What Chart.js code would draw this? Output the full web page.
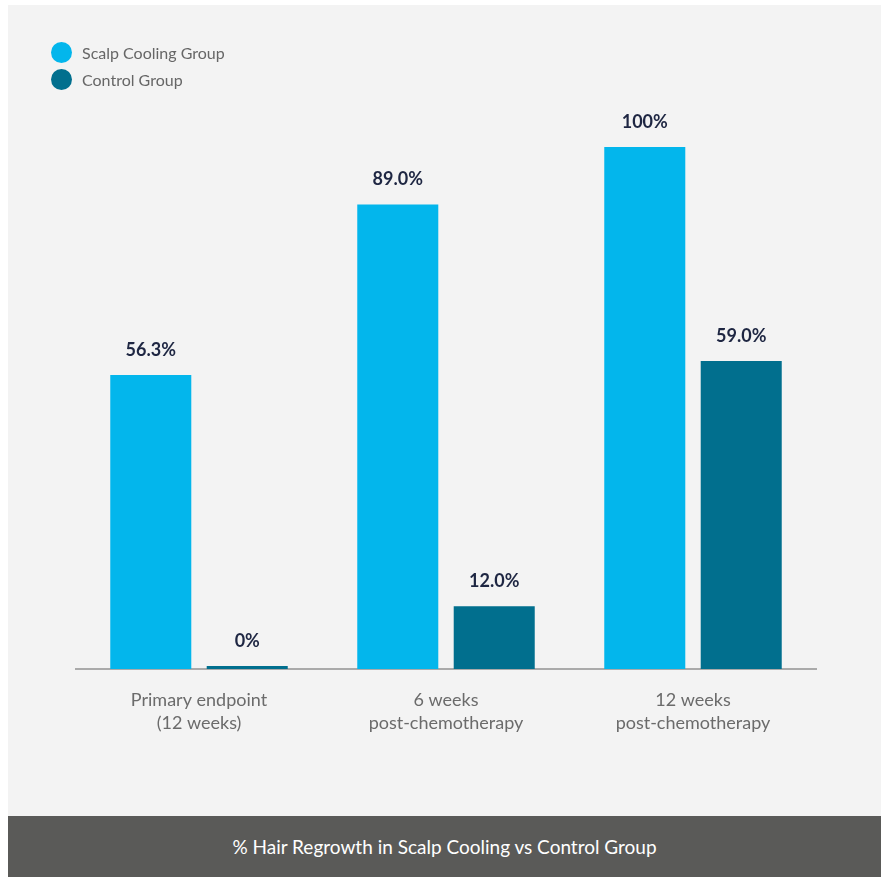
<!DOCTYPE html>
<html>
<head>
<meta charset="utf-8">
<script src="https://cdn.jsdelivr.net/npm/chart.js@4"></script>
<style>
    html, body { margin: 0; padding: 0; background: #ffffff; }
    body { width: 881px; height: 877px; position: relative; overflow: hidden; font-family: Lato, "Open Sans", sans-serif; }
    .panel { position: absolute; left: 8px; top: 5px; width: 873px; height: 811px; background: #f3f3f3; }
    .panel canvas { position: absolute; left: 0; top: 0; }
    .legend { position: absolute; left: 43px; top: 34px; }
    .legend .item { display: flex; align-items: center; height: 27px; font-size: 16px; color: #666666; }
    .legend .dot { width: 21px; height: 21px; border-radius: 50%; margin-right: 10px; }
    .footer { position: absolute; left: 8px; top: 816px; width: 873px; height: 61px; background: #5a5a58;
              color: #ffffff; font-size: 19px; text-align: center; line-height: 61px; }
</style>
</head>
<body>
<div class="panel">
    <canvas id="chart" width="873" height="811"></canvas>
    <div class="legend" id="legend"></div>
</div>
<div class="footer">% Hair Regrowth in Scalp Cooling vs Control Group</div>

<script>
// 数据
const categories = [
    ['Primary endpoint', '(12 weeks)'],
    ['6 weeks', 'post-chemotherapy'],
    ['12 weeks', 'post-chemotherapy']
];
const seriesNames = ['Scalp Cooling Group', 'Control Group'];
const scalpCooling = [56.3, 89.0, 100];
const control = [0, 12.0, 59.0];
const valueLabels = [
    ['56.3%', '89.0%', '100%'],
    ['0%', '12.0%', '59.0%']
];
const colors = ['#03b6ec', '#016f8e'];

// 图例
const legendEl = document.getElementById('legend');
seriesNames.forEach((name, i) => {
    const item = document.createElement('div');
    item.className = 'item';
    item.innerHTML = '<span class="dot" style="background:' + colors[i] + '"></span>' + name;
    legendEl.appendChild(item);
});

// 柱顶数值
const valueLabelPlugin = {
    id: 'valueLabels',
    afterDatasetsDraw(chart) {
        const ctx = chart.ctx;
        ctx.save();
        ctx.font = 'bold 18px Lato, "Open Sans", sans-serif';
        ctx.fillStyle = '#1e2642';
        ctx.textAlign = 'center';
        ctx.textBaseline = 'middle';
        chart.data.datasets.forEach((ds, di) => {
            chart.getDatasetMeta(di).data.forEach((bar, i) => {
                const top = Math.min(bar.y, bar.base - 3);
                ctx.fillText(valueLabels[di][i], bar.x, top - 25);
            });
        });
        ctx.restore();
    }
};

new Chart(document.getElementById('chart'), {
    type: 'bar',
    data: {
        labels: categories,
        datasets: [
            { label: seriesNames[0], data: scalpCooling, backgroundColor: colors[0] },
            { label: seriesNames[1], data: control, backgroundColor: colors[1], minBarLength: 3 }
        ]
    },
    options: {
        responsive: false,
        animation: false,
        categoryPercentage: 0.781,
        barPercentage: 0.84,
        layout: { padding: { left: 67.5, right: 64.5, top: 142, bottom: 0 } },
        plugins: {
            legend: { display: false },
            tooltip: { enabled: false }
        },
        scales: {
            y: { display: false, min: 0, max: 100 },
            x: {
                grid: { display: false, drawTicks: false },
                border: { display: true, color: '#aaaaaa', width: 2 },
                ticks: {
                    color: '#6b6b6b',
                    padding: 20,
                    font: { family: 'Lato, "Open Sans", sans-serif', size: 18, lineHeight: 1.25 }
                },
                afterFit(scale) { scale.height = 147; }
            }
        }
    },
    plugins: [valueLabelPlugin]
});
</script>
</body>
</html>
